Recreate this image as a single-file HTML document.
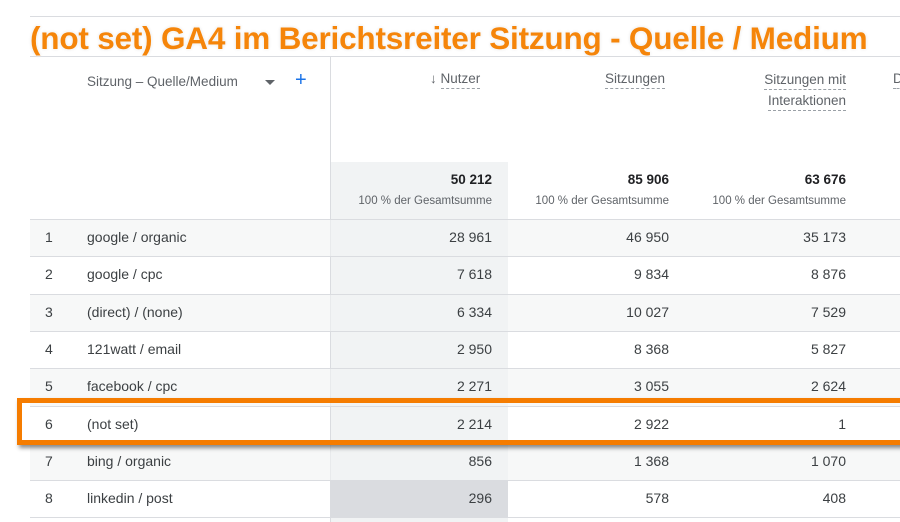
<!DOCTYPE html>
<html><head><meta charset="utf-8"><style>
*{margin:0;padding:0;box-sizing:border-box}
body{width:900px;height:522px;overflow:hidden;background:#fff;font-family:"Liberation Sans",sans-serif;position:relative;color:#202124}
.a{position:absolute}
.hl{position:absolute;left:30px;right:0;height:1px;background:#dadce0}
.row{position:absolute;left:30px;right:0;height:37px}
.n{position:absolute;font-size:14px;color:#3c4043}
.r{text-align:right;width:150px}
.h{font-size:13.5px;color:#5f6368;border-bottom:1px dashed #9aa0a6;padding-bottom:2px}
</style></head><body>
<div class="hl" style="top:16px"></div>
<div class="hl" style="top:56px"></div>
<div class="a" style="left:330px;top:57px;width:1px;height:465px;background:#dadce0"></div>
<div class="a" style="left:331px;top:162px;width:177px;height:360px;background:#f1f3f4"></div>
<div class="a" style="left:87px;top:74px;font-size:13.5px;color:#5f6368">Sitzung – Quelle/Medium</div>
<div class="a" style="left:265px;top:80px;width:0;height:0;border-left:5px solid transparent;border-right:5px solid transparent;border-top:5px solid #5f6368"></div>
<div class="a" style="left:295px;top:69px;font-size:20px;color:#1a73e8">+</div>
<div class="a" style="left:430px;top:71px;font-size:13.5px;color:#5f6368">↓ <span class="h">Nutzer</span></div>
<div class="a h" style="left:605px;top:71px">Sitzungen</div>
<div class="a" style="left:730px;top:69px;width:116px;text-align:right;font-size:13.5px;color:#5f6368;line-height:21px"><span class="h">Sitzungen mit</span><br><span class="h">Interaktionen</span></div>
<div class="a h" style="left:893px;top:71px">D</div>
<div class="a" style="left:342px;top:172px;width:150px;text-align:right;font-size:13.5px;font-weight:bold">50 212</div>
<div class="a" style="left:519px;top:172px;width:150px;text-align:right;font-size:13.5px;font-weight:bold">85 906</div>
<div class="a" style="left:696px;top:172px;width:150px;text-align:right;font-size:13.5px;font-weight:bold">63 676</div>
<div class="a" style="left:322px;top:195px;width:170px;text-align:right;font-size:11.5px;color:#5f6368">100 % der Gesamtsumme</div>
<div class="a" style="left:499px;top:195px;width:170px;text-align:right;font-size:11.5px;color:#5f6368">100 % der Gesamtsumme</div>
<div class="a" style="left:676px;top:195px;width:170px;text-align:right;font-size:11.5px;color:#5f6368">100 % der Gesamtsumme</div>
<div id="rows"></div>
<script>
var d=[["google / organic","28 961","46 950","35 173"],["google / cpc","7 618","9 834","8 876"],["(direct) / (none)","6 334","10 027","7 529"],["121watt / email","2 950","8 368","5 827"],["facebook / cpc","2 271","3 055","2 624"],["(not set)","2 214","2 922","1"],["bing / organic","856","1 368","1 070"],["linkedin / post","296","578","408"]];
var h="";
for(var i=0;i<8;i++){var t=219+i*37.3;
h+='<div class="hl" style="top:'+t+'px"></div>';
if(i%2==0)h+='<div class="row" style="top:'+(t+1)+'px;background:rgba(241,243,244,0.6)"></div>';
if(i==7)h+='<div class="a" style="left:331px;top:'+(t+1)+'px;width:177px;height:37px;background:#dadce0"></div>';
var y=t+10;
h+='<div class="n" style="left:45px;top:'+y+'px">'+(i+1)+'</div><div class="n" style="left:87px;top:'+y+'px">'+d[i][0]+'</div>';
h+='<div class="n r" style="left:342px;top:'+y+'px">'+d[i][1]+'</div><div class="n r" style="left:519px;top:'+y+'px">'+d[i][2]+'</div><div class="n r" style="left:696px;top:'+y+'px">'+d[i][3]+'</div>';}
h+='<div class="hl" style="top:517px"></div>';
document.getElementById("rows").innerHTML=h;
</script>
<div class="a" style="left:17px;top:398px;width:900px;height:47px;border:5px solid #f57c00;box-shadow:2px 3px 4px rgba(0,0,0,0.45)"></div>
<div class="a" style="left:30px;top:20px;font-size:31.5px;font-weight:bold;color:#f5850a;white-space:nowrap;letter-spacing:-0.2px;text-shadow:0 0 2px #fff,0 0 3px #ddd">(not set) GA4 im Berichtsreiter Sitzung - Quelle / Medium</div>
</body></html>
